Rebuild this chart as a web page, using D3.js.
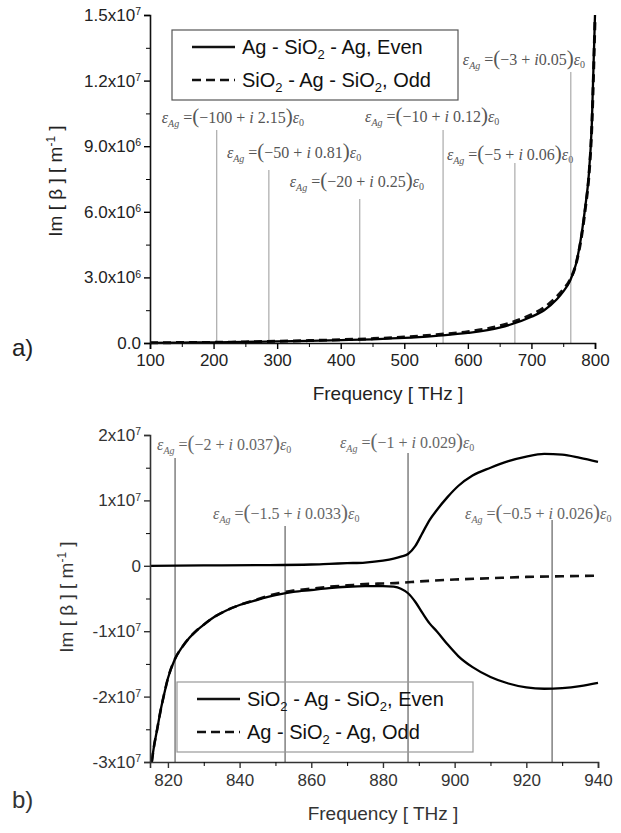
<!DOCTYPE html>
<html>
<head>
<meta charset="utf-8">
<script src="https://cdn.jsdelivr.net/npm/d3@7"></script>
<style>
  body { margin: 0; background: #fff; }
</style>
</head>
<body>
<svg id="chart" width="621" height="833"></svg>
<script>
// ---- panel a) data ----
const freqA = [100, 150, 200, 250, 300, 350, 400, 450, 500, 550, 600, 650, 700, 720, 740, 750, 760, 770, 780, 785, 790, 795, 800];
const evenA = [0.01e6, 0.02e6, 0.03e6, 0.05e6, 0.07e6, 0.1e6, 0.13e6, 0.17e6, 0.23e6, 0.33e6, 0.46e6, 0.7e6, 1.2e6, 1.5e6, 2.0e6, 2.35e6, 2.8e6, 3.6e6, 5.2e6, 6.3e6, 7.6e6, 10.0e6, 15.0e6];
const oddA  = [0.01e6, 0.02e6, 0.03e6, 0.05e6, 0.08e6, 0.11e6, 0.15e6, 0.2e6, 0.27e6, 0.38e6, 0.52e6, 0.78e6, 1.3e6, 1.62e6, 2.12e6, 2.45e6, 2.85e6, 3.6e6, 5.1e6, 6.2e6, 7.5e6, 9.9e6, 14.8e6];

const xTicksA = [100, 200, 300, 400, 500, 600, 700, 800];
const yTicksA = [0, 3e6, 6e6, 9e6, 1.2e7, 1.5e7];
const yLabelsA = ["0.0", "3.0x10^6", "6.0x10^6", "9.0x10^6", "1.2x10^7", "1.5x10^7"];

const epsFreqA = [205, 287, 430, 561, 674, 762];
const epsReA = ["\u2212100", "\u221250", "\u221220", "\u221210", "\u22125", "\u22123"];
const epsImA = [" 2.15", " 0.81", " 0.25", " 0.12", " 0.06", "0.05"];

// ---- panel b) data ----
const freqB = [815.5, 816, 817, 818, 819, 820, 822, 824, 826, 828, 830, 833, 836, 840, 845, 850, 855, 860, 865, 870, 875, 880, 883, 885, 887, 889, 891, 893, 895, 898, 901, 905, 910, 915, 920, 925, 930, 935, 940];
const evenLowB = [-3.0e7, -2.8e7, -2.5e7, -2.2e7, -1.95e7, -1.72e7, -1.42e7, -1.24e7, -1.1e7, -0.99e7, -0.9e7, -0.78e7, -0.69e7, -0.6e7, -0.52e7, -0.45e7, -0.4e7, -0.37e7, -0.34e7, -0.32e7, -0.31e7, -0.31e7, -0.32e7, -0.35e7, -0.42e7, -0.55e7, -0.72e7, -0.88e7, -1.0e7, -1.2e7, -1.38e7, -1.55e7, -1.7e7, -1.8e7, -1.86e7, -1.88e7, -1.87e7, -1.84e7, -1.79e7];
const freqUpB = [815, 830, 845, 860, 865, 870, 875, 880, 883, 885, 887, 889, 891, 893, 895, 898, 901, 905, 910, 915, 920, 925, 930, 935, 940];
const evenUpB = [0, 0.005e7, 0.01e7, 0.02e7, 0.03e7, 0.04e7, 0.05e7, 0.08e7, 0.11e7, 0.14e7, 0.18e7, 0.3e7, 0.5e7, 0.7e7, 0.85e7, 1.05e7, 1.22e7, 1.38e7, 1.5e7, 1.6e7, 1.67e7, 1.71e7, 1.7e7, 1.65e7, 1.59e7];
const freqOddB = [815.5, 816, 817, 818, 819, 820, 822, 824, 826, 828, 830, 833, 836, 840, 845, 850, 855, 860, 865, 870, 875, 880, 885, 890, 900, 910, 920, 930, 940];
const oddB = [-3.0e7, -2.8e7, -2.5e7, -2.2e7, -1.95e7, -1.72e7, -1.42e7, -1.24e7, -1.1e7, -0.99e7, -0.9e7, -0.78e7, -0.69e7, -0.6e7, -0.51e7, -0.43e7, -0.38e7, -0.35e7, -0.32e7, -0.3e7, -0.28e7, -0.27e7, -0.26e7, -0.24e7, -0.21e7, -0.19e7, -0.17e7, -0.16e7, -0.15e7];

const xTicksB = [820, 840, 860, 880, 900, 920, 940];
const yTicksB = [-3e7, -2e7, -1e7, 0, 1e7, 2e7];
const yLabelsB = ["-3x10^7", "-2x10^7", "-1x10^7", "0", "1x10^7", "2x10^7"];

const epsFreqB = [822, 852.7, 887, 927.2];
const epsReB = ["\u22122", "\u22121.5", "\u22121", "\u22120.5"];
const epsImB = [" 0.037", " 0.033", " 0.029", " 0.026"];

// label layout: [dx from line, text baseline, line top]
const epsLayoutA = [[-55, 123, 130], [-42, 158, 170], [-70, 187, 199], [-78, 122, 130], [-68, 160, 163], [-108, 65, 72]];
const epsLayoutB = [[-18, 450, 458], [-72, 519, 526], [-68, 448, 453], [-87, 519, 520]];

const svg = d3.select("#chart");
const sans = "Liberation Sans, Arial, sans-serif";
const serif = "Liberation Serif, Times New Roman, serif";

function supLabels(g, labels) {
  g.selectAll(".tick text").each(function (d, i) {
    const parts = labels[i].split("^");
    const t = d3.select(this).text(parts[0]);
    if (parts[1]) t.append("tspan").attr("dy", "-0.55em").attr("font-size", "0.62em").text(parts[1]);
  });
}

function epsText(g, x, y, re, im, color) {
  const t = g.append("text").attr("x", x).attr("y", y)
    .attr("font-family", serif).attr("font-size", 16).attr("fill", color);
  t.append("tspan").attr("font-style", "italic").text("\u03b5");
  t.append("tspan").attr("font-style", "italic").attr("font-size", 10).attr("dy", 4).text("Ag");
  t.append("tspan").attr("dy", -4).text(" =");
  t.append("tspan").attr("font-size", 21).text("(");
  t.append("tspan").text(re + " + ");
  t.append("tspan").attr("font-style", "italic").text("i");
  t.append("tspan").text(im);
  t.append("tspan").attr("font-size", 21).text(")");
  t.append("tspan").attr("font-style", "italic").text("\u03b5");
  t.append("tspan").attr("font-size", 10).attr("dy", 3).text("0");
}

// legend item parts: plain strings, or ["2"] arrays for subscripts
function legend(g, x0, y0, w, h, items, border) {
  g.append("rect").attr("x", x0).attr("y", y0).attr("width", w).attr("height", h)
    .attr("fill", "none").attr("stroke", border).attr("stroke-width", 1.2);
  items.forEach((it, i) => {
    const ly = y0 + 17 + i * 33;
    g.append("line").attr("x1", x0 + 20).attr("x2", x0 + 63).attr("y1", ly).attr("y2", ly)
      .attr("stroke", "#111").attr("stroke-width", 2.5)
      .attr("stroke-dasharray", it.dash ? "9,5" : null);
    const t = g.append("text").attr("x", x0 + 70).attr("y", ly + 7)
      .attr("font-family", sans).attr("font-size", 20).attr("fill", "#111");
    let shifted = false;
    it.parts.forEach(p => {
      if (Array.isArray(p)) {
        t.append("tspan").attr("font-size", 13).attr("dy", 5).text(p[0]);
        shifted = true;
      } else {
        t.append("tspan").attr("dy", shifted ? -5 : 0).text(p);
        shifted = false;
      }
    });
  });
}

// ================= panel a =================
const xA = d3.scaleLinear().domain([100, 800]).range([150, 595]);
const yA = d3.scaleLinear().domain([0, 1.5e7]).range([343, 15]);
const gA = svg.append("g");

// annotation lines
epsFreqA.forEach((f, i) => {
  const [dx, by, top] = epsLayoutA[i];
  gA.append("line").attr("x1", xA(f)).attr("x2", xA(f)).attr("y1", top).attr("y2", yA(0))
    .attr("stroke", "#999").attr("stroke-width", 1);
  epsText(gA, xA(f) + dx, by, epsReA[i], epsImA[i], "#555");
});

const lineA = (vals) => d3.line().x((d, i) => xA(freqA[i])).y(d => yA(d)).curve(d3.curveMonotoneX)(vals);
gA.append("path").attr("d", lineA(oddA)).attr("fill", "none").attr("stroke", "#111")
  .attr("stroke-width", 3).attr("stroke-dasharray", "8,5");
gA.append("path").attr("d", lineA(evenA)).attr("fill", "none").attr("stroke", "#000").attr("stroke-width", 2.3);

// axes
const xAxA = gA.append("g").attr("transform", "translate(0,343)")
  .call(d3.axisBottom(xA).tickValues(xTicksA).tickSize(6).tickPadding(5).tickFormat(d3.format("d")));
gA.append("g").attr("transform", "translate(0,343)")
  .call(d3.axisBottom(xA).tickValues(d3.range(150, 800, 100)).tickSize(4).tickFormat(""))
  .select(".domain").remove();
const yAxA = gA.append("g").attr("transform", "translate(150,0)")
  .call(d3.axisLeft(yA).tickValues(yTicksA).tickSize(6).tickPadding(3));
supLabels(yAxA, yLabelsA);
gA.append("g").attr("transform", "translate(150,0)")
  .call(d3.axisLeft(yA).tickValues(d3.range(1.5e6, 1.5e7, 3e6)).tickSize(4).tickFormat(""))
  .select(".domain").remove();
[xAxA, yAxA].forEach(a => {
  a.selectAll("text").attr("font-family", sans).attr("font-size", 17).attr("fill", "#222");
  a.select(".domain").attr("stroke-width", 1.6);
  a.selectAll(".tick line").attr("stroke-width", 1.4);
});
gA.selectAll("path.domain").attr("stroke", "#111");

gA.append("text").attr("x", 388).attr("y", 400).attr("text-anchor", "middle")
  .attr("font-family", sans).attr("font-size", 19).attr("fill", "#222").text("Frequency [ THz ]");
const ytA = gA.append("text").attr("transform", "translate(62,181) rotate(-90)").attr("text-anchor", "middle")
  .attr("font-family", sans).attr("font-size", 19).attr("fill", "#222");
ytA.append("tspan").text("Im [ \u03b2 ] [ m");
ytA.append("tspan").attr("dy", -7).attr("font-size", 12).text("-1");
ytA.append("tspan").attr("dy", 7).text(" ]");
gA.append("text").attr("x", 12).attr("y", 356).attr("font-family", sans).attr("font-size", 24)
  .attr("fill", "#222").text("a)");

legend(gA, 172, 30, 286, 70, [
  { dash: false, parts: ["Ag - SiO", ["2"], " - Ag, Even"] },
  { dash: true, parts: ["SiO", ["2"], " - Ag - SiO", ["2"], ", Odd"] }
], "#555");

// ================= panel b =================
const xB = d3.scaleLinear().domain([815, 940]).range([150, 598]);
const yB = d3.scaleLinear().domain([-3e7, 2e7]).range([762, 435]);
const gB = svg.append("g");

epsFreqB.forEach((f, i) => {
  const [dx, by, top] = epsLayoutB[i];
  gB.append("line").attr("x1", xB(f)).attr("x2", xB(f)).attr("y1", top).attr("y2", yB(-3e7))
    .attr("stroke", "#888").attr("stroke-width", 1.6);
  epsText(gB, xB(f) + dx, by, epsReB[i], epsImB[i], "#666");
});

legend(gB, 177, 682, 296, 70, [
  { dash: false, parts: ["SiO", ["2"], " - Ag - SiO", ["2"], ", Even"] },
  { dash: true, parts: ["Ag - SiO", ["2"], " - Ag, Odd"] }
], "#999");

const lineB = (fs, vals) => d3.line().x((d, i) => xB(fs[i])).y(d => yB(d)).curve(d3.curveMonotoneX)(vals);
gB.append("path").attr("d", lineB(freqOddB, oddB)).attr("fill", "none").attr("stroke", "#111")
  .attr("stroke-width", 2.6).attr("stroke-dasharray", "9,6");
gB.append("path").attr("d", lineB(freqB, evenLowB)).attr("fill", "none").attr("stroke", "#000").attr("stroke-width", 2.3);
gB.append("path").attr("d", lineB(freqUpB, evenUpB)).attr("fill", "none").attr("stroke", "#000").attr("stroke-width", 2.3);

const xAxB = gB.append("g").attr("transform", "translate(0,762)")
  .call(d3.axisBottom(xB).tickValues(xTicksB).tickSize(6).tickPadding(6).tickFormat(d3.format("d")));
gB.append("g").attr("transform", "translate(0,762)")
  .call(d3.axisBottom(xB).tickValues(d3.range(830, 940, 20)).tickSize(4).tickFormat(""))
  .select(".domain").remove();
const yAxB = gB.append("g").attr("transform", "translate(150,0)")
  .call(d3.axisLeft(yB).tickValues(yTicksB).tickSize(6).tickPadding(3));
supLabels(yAxB, yLabelsB);
gB.append("g").attr("transform", "translate(150,0)")
  .call(d3.axisLeft(yB).tickValues(d3.range(-2.5e7, 2e7, 1e7)).tickSize(4).tickFormat(""))
  .select(".domain").remove();
[xAxB, yAxB].forEach(a => {
  a.selectAll("text").attr("font-family", sans).attr("font-size", 17).attr("fill", "#333");
  a.select(".domain").attr("stroke-width", 1.6).attr("stroke", "#333");
  a.selectAll(".tick line").attr("stroke-width", 1.4).attr("stroke", "#333");
});

gB.append("text").attr("x", 383).attr("y", 820).attr("text-anchor", "middle")
  .attr("font-family", sans).attr("font-size", 19).attr("fill", "#333").text("Frequency [ THz ]");
const ytB = gB.append("text").attr("transform", "translate(73,597) rotate(-90)").attr("text-anchor", "middle")
  .attr("font-family", sans).attr("font-size", 19).attr("fill", "#333");
ytB.append("tspan").text("Im [ \u03b2 ] [ m");
ytB.append("tspan").attr("dy", -7).attr("font-size", 12).text("-1");
ytB.append("tspan").attr("dy", 7).text(" ]");
gB.append("text").attr("x", 12).attr("y", 808).attr("font-family", sans).attr("font-size", 24)
  .attr("fill", "#333").text("b)");
</script>
</body>
</html>
